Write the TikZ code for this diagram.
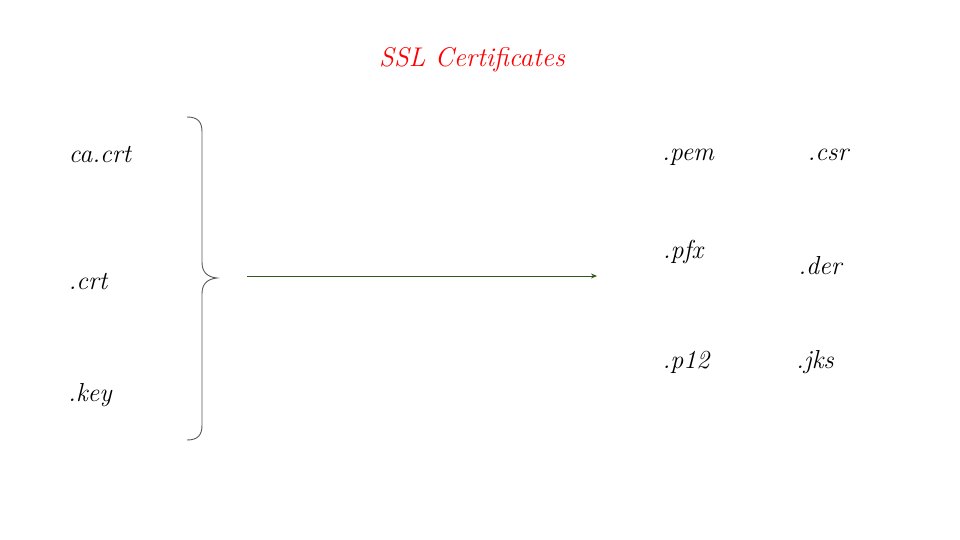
\documentclass[tikz,border=0pt]{standalone}
\usetikzlibrary{arrows.meta}
\definecolor{arrowgreen}{HTML}{2F5A17}
\definecolor{titlered}{HTML}{FF0000}
\definecolor{bracegray}{HTML}{595959}
\tikzset{
  lbl/.style={font=\fontsize{26}{30}\selectfont\itshape, text=black, inner sep=0pt},
  ttl/.style={font=\fontsize{27}{32}\selectfont\itshape, text=titlered, inner sep=0pt},
  conn/.style={draw=arrowgreen, line width=0.9pt, -{Stealth[length=6pt,width=5pt]}},
}
\begin{document}
\begin{tikzpicture}[x=1pt,y=-1pt]
\useasboundingbox (0,0) rectangle (960,540);
\node[ttl] (title) at (472,60) {SSL Certificates};
\node[lbl] (cacrt) at (100,155) {ca.crt};
\node[lbl] (crt) at (88,282) {.crt};
\node[lbl] (key) at (90,395) {.key};
\node[lbl] (pem) at (688,157) {.pem};
\node[lbl] (csr) at (828,155) {.csr};
\node[lbl] (pfx) at (683,252) {.pfx};
\node[lbl] (der) at (820,266) {.der};
\node[lbl] (p12) at (686,362) {.p12};
\node[lbl] (jks) at (815,362) {.jks};
% brace
\draw[bracegray, line width=0.9pt]
  (187,117) .. controls (198,117) and (202,122) .. (202,132)
  -- (202,262) .. controls (202,272) and (207,277) .. (217,278)
  .. controls (207,279) and (202,284) .. (202,294)
  -- (202,425) .. controls (202,435) and (198,440) .. (187,440);
\coordinate (a) at (247,276);
\coordinate (b) at (597,276);
\draw[conn] (a) -- (b);
\end{tikzpicture}
\end{document}
